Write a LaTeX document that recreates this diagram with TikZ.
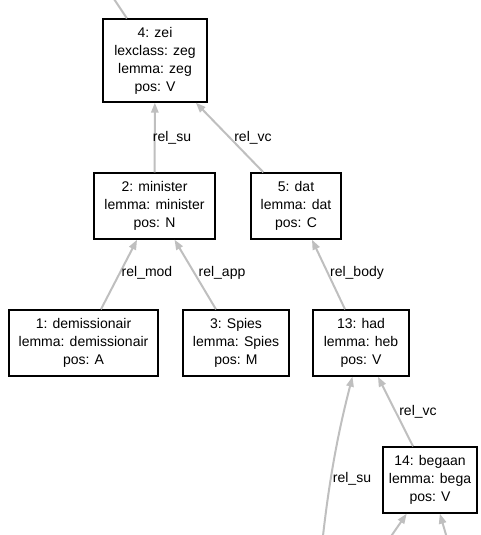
\documentclass[tikz,border=0pt]{standalone}
\usepackage{fontspec}
\setmainfont{Liberation Sans}
\usepackage{tikz}
\usetikzlibrary{arrows.meta,positioning,calc}

\tikzset{
  tok/.style={draw=black, line width=1pt, fill=white, align=center, inner sep=0pt,
    minimum height=49.5pt, font=\fontsize{10.5}{13.5}\selectfont},
  rel/.style={draw=black!25, line width=1.5pt, -{Triangle[length=7.5pt,width=5.5pt]}},
  rellabel/.style={inner sep=1pt, font=\fontsize{10.5}{13.5}\selectfont}
}

\begin{document}
\begin{tikzpicture}[x=0.75pt,y=-0.75pt]
            \useasboundingbox (0,0) rectangle (480,535);
            % token boxes
            \node[tok, minimum width=78pt, minimum height=62.25pt] (n4) at (155,60.5) {4: zei\\lexclass: zeg\\lemma: zeg\\pos: V};
            \node[tok, minimum width=90.75pt] (n2) at (154.5,206) {2: minister\\lemma: minister\\pos: N};
            \node[tok, minimum width=67.5pt] (n5) at (296,206) {5: dat\\lemma: dat\\pos: C};
            \node[tok, minimum width=111.75pt] (n1) at (83.5,343) {1: demissionair\\lemma: demissionair\\pos: A};
            \node[tok, minimum width=79.5pt] (n3) at (236,343) {3: Spies\\lemma: Spies\\pos: M};
            \node[tok, minimum width=72pt] (n13) at (361,343) {13: had\\lemma: heb\\pos: V};
            \node[tok, minimum width=70.5pt] (n14) at (430,480) {14: begaan\\lemma: bega\\pos: V};
            % loose ends that leave the picture
            \coordinate (up) at (108,-10);
            \coordinate (su) at (322,545);
            \coordinate (d1) at (385,545);
            \coordinate (d2) at (449,545);
            % relations, child to head
            \draw[rel, -] (n4) -- (up);
            \draw[rel] (n2) -- (n4);
            \draw[rel] (n5) -- (n4);
            \draw[rel] (n1) -- (n2);
            \draw[rel] (n3) -- (n2);
            \draw[rel] (n13) -- (n5);
            \draw[rel] (n14) -- (n13);
            \draw[rel] (su) .. controls (331,460) and (344,410) .. (n13);
            \draw[rel] (d1) -- (n14);
            \draw[rel] (d2) -- (n14);
            % relation labels
            \node[rellabel] (l24) at (172,138) {rel\_su};
            \node[rellabel] (l54) at (253,138) {rel\_vc};
            \node[rellabel] (l12) at (147,273) {rel\_mod};
            \node[rellabel] (l32) at (222,273) {rel\_app};
            \node[rellabel] (l135) at (357,273) {rel\_body};
            \node[rellabel] (l1413) at (418,412) {rel\_vc};
            \node[rellabel] (lsu) at (352,479) {rel\_su};
        \end{tikzpicture}
\end{document}
